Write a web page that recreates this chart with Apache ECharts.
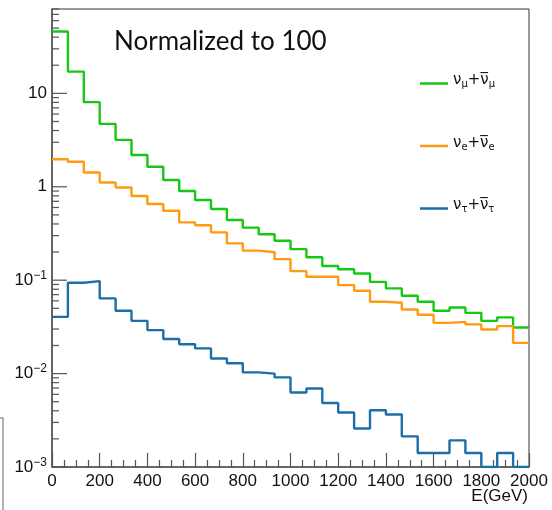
<!DOCTYPE html>
<html>
<head>
<meta charset="utf-8">
<script src="https://cdn.jsdelivr.net/npm/echarts@6/dist/echarts.min.js"></script>
<style>
  html, body { margin: 0; background: #fff; }
  #chart { width: 552px; height: 510px; }
</style>
</head>
<body>
<div id="chart"></div>
<script>
// histogram, 30 bins from 0 to 2000 GeV
const xMin = 0;
const xMax = 2000;
const nBins = 30;
const yMin = 0.001;
const yMax = 80;

const numu = [45.9, 17.1, 8.05, 4.71, 3.18, 2.19, 1.64, 1.18, 0.90, 0.722,
  0.578, 0.441, 0.365, 0.310, 0.264, 0.215, 0.176, 0.142, 0.131, 0.118,
  0.096, 0.0817, 0.068, 0.0587, 0.047, 0.051, 0.0447, 0.0367, 0.040, 0.0312];
const nue = [1.97, 1.85, 1.42, 1.11, 0.983, 0.797, 0.654, 0.554, 0.416, 0.387,
  0.325, 0.248, 0.207, 0.199, 0.168, 0.125, 0.109, 0.109, 0.0886, 0.0770,
  0.0587, 0.0573, 0.0486, 0.0426, 0.0349, 0.0358, 0.0336, 0.0297, 0.0322, 0.0213];
const nutau = [0.0405, 0.0938, 0.0978, 0.0638, 0.0470, 0.0367, 0.0292, 0.0235, 0.0206, 0.0186,
  0.0145, 0.0129, 0.0103, 0.0100, 0.0091, 0.00627, 0.00692, 0.00485, 0.00383, 0.00258,
  0.00405, 0.00365, 0.00213, 0.00141, 0.00141, 0.00193, 0.00141, 0, 0.00141, 0];

const seriesNames = ['numu', 'nue', 'nutau'];
const seriesColors = ['#14c814', '#ff9a12', '#1b6ea6'];
const legendLabels = {
  numu: 'ν{sub|μ}+ν\u0305{sub|μ}',
  nue: 'ν{sub|e}+ν\u0305{sub|e}',
  nutau: 'ν{sub|τ}+ν\u0305{sub|τ}'
};

const binWidth = (xMax - xMin) / nBins;

// step points: left edge of each bin, plus the last right edge
function toSteps(vals) {
  const pts = vals.map((v, i) => [xMin + i * binWidth, Math.max(v, yMin)]);
  pts.push([xMax, Math.max(vals[vals.length - 1], yMin)]);
  return pts;
}

const chart = echarts.init(document.getElementById('chart'));

const font = '"Liberation Sans", Arial, sans-serif';

const option = {
  animation: false,
  textStyle: { fontFamily: font },
  grid: {
    left: 52, right: 23, top: 9, bottom: 43,
    show: true, borderColor: '#333', borderWidth: 1
  },
  legend: {
    orient: 'vertical',
    left: 415,
    top: 68,
    icon: 'rect',
    itemWidth: 28,
    itemHeight: 2.5,
    itemGap: 46,
    data: seriesNames,
    formatter: name => legendLabels[name],
    textStyle: {
      fontFamily: '"DejaVu Sans", sans-serif',
      fontSize: 15,
      color: '#111',
      height: 24,
      rich: {
        sub: { fontSize: 10, verticalAlign: 'bottom', padding: [8, 0, 0, 0] }
      }
    }
  },
  xAxis: {
    type: 'value',
    min: xMin,
    max: xMax,
    interval: 200,
    axisLine: { lineStyle: { color: '#555', width: 1.5 } },
    axisTick: { inside: true, length: 14, lineStyle: { color: '#555', width: 1.2 } },
    minorTick: { show: true, splitNumber: 4, length: 7, lineStyle: { color: '#555', width: 1.2 } },
    splitLine: { show: false },
    axisLabel: {
      color: '#111', fontSize: 17, fontFamily: font, margin: 6,
      formatter: v => String(v)
    }
  },
  yAxis: {
    type: 'log',
    logBase: 10,
    min: yMin,
    max: yMax,
    axisLine: { show: true, lineStyle: { color: '#555', width: 1.5 } },
    axisTick: { show: false },
    splitLine: { show: false },
    axisLabel: {
      color: '#111',
      fontSize: 17,
      fontFamily: font,
      margin: 5,
      showMaxLabel: false,
      formatter: v => {
        const e = Math.round(Math.log10(v));
        if (Math.abs(Math.log10(v) - e) > 1e-6) return '';
        if (e === 0) return '1';
        if (e === 1) return '10';
        return '10{sup|−' + (-e) + '}';
      },
      rich: {
        sup: { fontSize: 12, fontFamily: font, verticalAlign: 'bottom', padding: [0, 0, 9, 0] }
      }
    }
  },
  series: [numu, nue, nutau].map((vals, i) => ({
    name: seriesNames[i],
    type: 'line',
    step: 'end',
    symbol: 'none',
    data: toSteps(vals),
    lineStyle: { color: seriesColors[i], width: 2.4 },
    itemStyle: { color: seriesColors[i] }
  }))
};

chart.setOption(option);

// log-axis ticks: majors at decades, minors at 2..9
const x0 = chart.convertToPixel({ xAxisIndex: 0 }, xMin);
const tickLines = [];
for (let d = -3; d <= 1; d++) {
  for (let k = 1; k <= 9; k++) {
    const v = k * Math.pow(10, d);
    if (v < yMin || v > yMax) continue;
    const y = chart.convertToPixel({ yAxisIndex: 0 }, v);
    const len = k === 1 ? 15 : 7;
    tickLines.push({
      type: 'line',
      shape: { x1: x0, y1: y, x2: x0 + len, y2: y },
      style: { stroke: '#555', lineWidth: 1.2 },
      silent: true
    });
  }
}

chart.setOption({
  graphic: tickLines.concat([
    {
      type: 'text',
      left: 114,
      top: 29,
      style: { text: 'Normalized to 100', fontSize: 26, fontFamily: 'Lato, sans-serif', fill: '#111' }
    },
    {
      type: 'text',
      right: 24,
      top: 488,
      style: { text: 'E(GeV)', fontSize: 17, fontFamily: font, fill: '#111' }
    },
    {
      type: 'polyline',
      shape: { points: [[0, 418], [3, 418], [3, 510]] },
      style: { stroke: '#999', lineWidth: 1.5, fill: null },
      silent: true
    }
  ])
});
</script>
</body>
</html>
